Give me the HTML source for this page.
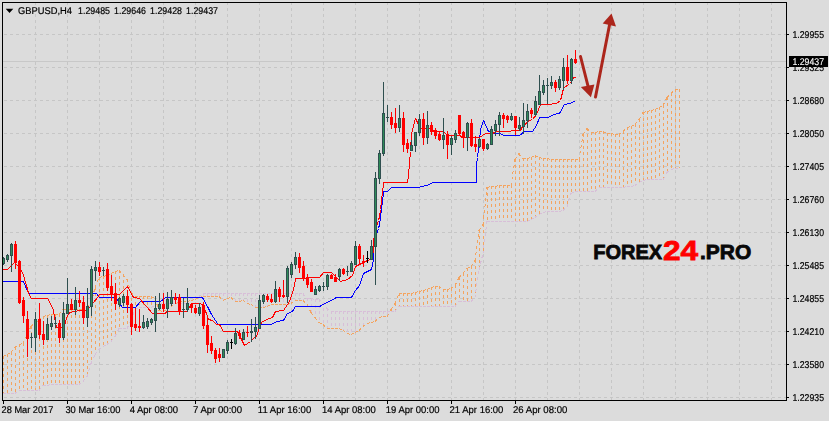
<!DOCTYPE html><html><head><meta charset="utf-8"><title>GBPUSD H4</title>
<style>html,body{margin:0;padding:0;background:#dcdcdc;overflow:hidden}svg{display:block}text{font-family:"Liberation Sans",sans-serif;}.t{filter:grayscale(1);text-rendering:geometricPrecision}.t text{stroke:#000;stroke-width:.2px}.t text.w{stroke:#fff;stroke-width:.1px}</style></head><body>
<svg width="829" height="421" viewBox="0 0 829 421">
<rect x="0" y="0" width="829" height="421" fill="#dcdcdc"/>
<g shape-rendering="crispEdges" stroke="#c6c6c6" stroke-width="1" stroke-dasharray="3 3" fill="none">
<line x1="35.5" y1="2" x2="35.5" y2="400"/>
<line x1="67.5" y1="2" x2="67.5" y2="400"/>
<line x1="99.5" y1="2" x2="99.5" y2="400"/>
<line x1="131.5" y1="2" x2="131.5" y2="400"/>
<line x1="163.5" y1="2" x2="163.5" y2="400"/>
<line x1="195.5" y1="2" x2="195.5" y2="400"/>
<line x1="227.5" y1="2" x2="227.5" y2="400"/>
<line x1="259.5" y1="2" x2="259.5" y2="400"/>
<line x1="291.5" y1="2" x2="291.5" y2="400"/>
<line x1="323.5" y1="2" x2="323.5" y2="400"/>
<line x1="355.5" y1="2" x2="355.5" y2="400"/>
<line x1="387.5" y1="2" x2="387.5" y2="400"/>
<line x1="419.5" y1="2" x2="419.5" y2="400"/>
<line x1="451.5" y1="2" x2="451.5" y2="400"/>
<line x1="483.5" y1="2" x2="483.5" y2="400"/>
<line x1="515.5" y1="2" x2="515.5" y2="400"/>
<line x1="547.5" y1="2" x2="547.5" y2="400"/>
<line x1="579.5" y1="2" x2="579.5" y2="400"/>
<line x1="611.5" y1="2" x2="611.5" y2="400"/>
<line x1="643.5" y1="2" x2="643.5" y2="400"/>
<line x1="675.5" y1="2" x2="675.5" y2="400"/>
<line x1="707.5" y1="2" x2="707.5" y2="400"/>
<line x1="739.5" y1="2" x2="739.5" y2="400"/>
<line x1="771.5" y1="2" x2="771.5" y2="400"/>
<line x1="4" y1="34.5" x2="786" y2="34.5"/>
<line x1="4" y1="67.5" x2="786" y2="67.5"/>
<line x1="4" y1="100.5" x2="786" y2="100.5"/>
<line x1="4" y1="133.5" x2="786" y2="133.5"/>
<line x1="4" y1="166.5" x2="786" y2="166.5"/>
<line x1="4" y1="199.5" x2="786" y2="199.5"/>
<line x1="4" y1="232.5" x2="786" y2="232.5"/>
<line x1="4" y1="265.5" x2="786" y2="265.5"/>
<line x1="4" y1="298.5" x2="786" y2="298.5"/>
<line x1="4" y1="331.5" x2="786" y2="331.5"/>
<line x1="4" y1="364.5" x2="786" y2="364.5"/>
<line x1="4" y1="397.5" x2="786" y2="397.5"/>
</g>
<line x1="3" y1="61.5" x2="786" y2="61.5" stroke="#c8c8c8" stroke-width="1" shape-rendering="crispEdges"/>
<g shape-rendering="crispEdges" fill="none" stroke-width="1" stroke-dasharray="3 3">
<path stroke="#f4a460" d="M3.5 356V393M7.5 354V393M11.5 352V393M15.5 347V393M19.5 344V390M23.5 343V390M27.5 334V390M31.5 326V390M35.5 322V390M39.5 320V390M43.5 316V385M47.5 315V385M51.5 314V384M55.5 314V384M59.5 314V384M63.5 309V384M67.5 309V384M71.5 309V384M75.5 309V384M79.5 309V384M83.5 309V381M87.5 306V376M91.5 303V363M95.5 287V354M99.5 277V349M103.5 276V346M107.5 275V344M111.5 273V341M115.5 271V336M119.5 270V328M123.5 274V328M127.5 279V328M131.5 292V320M135.5 296V309M139.5 296V307M143.5 296V307M147.5 296V307M151.5 296V307M155.5 298V305M179.5 302V303M183.5 301V303M187.5 301V303M391.5 309V311M395.5 303V311M399.5 293V306M403.5 293V306M407.5 293V306M411.5 293V306M415.5 292V306M419.5 291V306M423.5 290V306M427.5 289V306M431.5 287V306M435.5 286V306M439.5 286V306M443.5 289V306M447.5 289V306M451.5 288V306M455.5 285V306M459.5 277V301M463.5 273V301M467.5 268V301M471.5 266V301M475.5 260V297M479.5 230V269M483.5 224V253M487.5 187V221M491.5 186V221M495.5 186V221M499.5 185V221M503.5 185V221M507.5 185V221M511.5 185V221M515.5 159V221M519.5 153V221M523.5 158V221M527.5 158V221M531.5 157V219M535.5 155V217M539.5 157V214M543.5 158V212M547.5 158V211M551.5 159V211M555.5 159V211M559.5 159V211M563.5 159V210M567.5 159V206M571.5 159V193M575.5 159V191M579.5 159V191M583.5 134V191M587.5 128V191M591.5 132V191M595.5 132V191M599.5 131V187M603.5 131V187M607.5 133V187M611.5 133V187M615.5 134V187M619.5 134V187M623.5 131V187M627.5 127V186M631.5 126V186M635.5 124V185M639.5 119V182M643.5 112V180M647.5 111V179M651.5 110V179M655.5 109V179M659.5 107V179M663.5 105V179M667.5 97V172M671.5 93V169M675.5 89V168M679.5 89V168"/>
<path stroke="#d8bfd8" d="M159.5 303V310M163.5 303V311M167.5 303V309M171.5 303V306M195.5 298V299M199.5 296V297M203.5 293V296M207.5 293V296M211.5 293V296M215.5 293V296M219.5 293V296M223.5 293V300M227.5 293V298M231.5 293V297M235.5 293V301M239.5 293V301M243.5 293V300M247.5 293V303M251.5 293V304M255.5 293V307M259.5 293V307M263.5 293V307M267.5 293V306M271.5 293V304M275.5 293V304M279.5 293V304M283.5 293V304M287.5 293V304M291.5 293V303M295.5 293V300M299.5 293V300M303.5 293V300M307.5 298V304M311.5 298V312M315.5 299V317M319.5 299V322M323.5 302V324M327.5 308V328M331.5 311V328M335.5 311V328M339.5 311V328M343.5 311V330M347.5 311V333M351.5 311V334M355.5 311V332M359.5 311V330M363.5 311V326M367.5 311V323M371.5 311V322M375.5 311V321M379.5 311V317M383.5 311V316M387.5 311V316"/>
</g>
<g shape-rendering="crispEdges" fill="none" stroke-width="1" stroke-dasharray="3 3">
<path stroke="#d8bfd8" d="M3 393.5L7 393.5M7 393.5L11 393.5M11 393.5L15 393.5M15 393.5L19 390.5M19 390.5L23 390.5M23 390.5L27 390.5M27 390.5L31 390.5M31 390.5L35 390.5M35 390.5L39 390.5M39 390.5L43 385.5M43 385.5L47 385.5M47 385.5L51 384.5M51 384.5L55 384.5M55 384.5L59 384.5M59 384.5L63 384.5M63 384.5L67 384.5M67 384.5L71 384.5M71 384.5L75 384.5M75 384.5L79 384.5M79 384.5L83 381.5M83 381.5L87 376.5M87 376.5L91 363.5M91 363.5L95 354.5M95 354.5L99 349.5M99 349.5L103 346.5M103 346.5L107 344.5M107 344.5L111 341.5M111 341.5L115 336.5M115 336.5L119 328.5M119 328.5L123 328.5M123 328.5L127 328.5M127 328.5L131 320.5M131 320.5L135 309.5M135 309.5L139 307.5M139 307.5L143 307.5M143 307.5L147 307.5M147 307.5L151 307.5M151 307.5L155 305.5M155 305.5L159 303.5M159 303.5L163 303.5M163 303.5L167 303.5M167 303.5L171 303.5M171 303.5L175 303.5M175 303.5L179 303.5M179 303.5L183 303.5M183 303.5L187 303.5M187 303.5L191 300.5M191 300.5L195 298.5M195 298.5L199 296.5M199 296.5L203 293.5M203 293.5L207 293.5M207 293.5L211 293.5M211 293.5L215 293.5M215 293.5L219 293.5M219 293.5L223 293.5M223 293.5L227 293.5M227 293.5L231 293.5M231 293.5L235 293.5M235 293.5L239 293.5M239 293.5L243 293.5M243 293.5L247 293.5M247 293.5L251 293.5M251 293.5L255 293.5M255 293.5L259 293.5M259 293.5L263 293.5M263 293.5L267 293.5M267 293.5L271 293.5M271 293.5L275 293.5M275 293.5L279 293.5M279 293.5L283 293.5M283 293.5L287 293.5M287 293.5L291 293.5M291 293.5L295 293.5M295 293.5L299 293.5M299 293.5L303 293.5M303 293.5L307 298.5M307 298.5L311 298.5M311 298.5L315 299.5M315 299.5L319 299.5M319 299.5L323 302.5M323 302.5L327 308.5M327 308.5L331 311.5M331 311.5L335 311.5M335 311.5L339 311.5M339 311.5L343 311.5M343 311.5L347 311.5M347 311.5L351 311.5M351 311.5L355 311.5M355 311.5L359 311.5M359 311.5L363 311.5M363 311.5L367 311.5M367 311.5L371 311.5M371 311.5L375 311.5M375 311.5L379 311.5M379 311.5L383 311.5M383 311.5L387 311.5M387 311.5L391 311.5M391 311.5L395 311.5M395 311.5L399 306.5M399 306.5L403 306.5M403 306.5L407 306.5M407 306.5L411 306.5M411 306.5L415 306.5M415 306.5L419 306.5M419 306.5L423 306.5M423 306.5L427 306.5M427 306.5L431 306.5M431 306.5L435 306.5M435 306.5L439 306.5M439 306.5L443 306.5M443 306.5L447 306.5M447 306.5L451 306.5M451 306.5L455 306.5M455 306.5L459 301.5M459 301.5L463 301.5M463 301.5L467 301.5M467 301.5L471 301.5M471 301.5L475 297.5M475 297.5L479 269.5M479 269.5L483 253.5M483 253.5L487 221.5M487 221.5L491 221.5M491 221.5L495 221.5M495 221.5L499 221.5M499 221.5L503 221.5M503 221.5L507 221.5M507 221.5L511 221.5M511 221.5L515 221.5M515 221.5L519 221.5M519 221.5L523 221.5M523 221.5L527 221.5M527 221.5L531 219.5M531 219.5L535 217.5M535 217.5L539 214.5M539 214.5L543 212.5M543 212.5L547 211.5M547 211.5L551 211.5M551 211.5L555 211.5M555 211.5L559 211.5M559 211.5L563 210.5M563 210.5L567 206.5M567 206.5L571 193.5M571 193.5L575 191.5M575 191.5L579 191.5M579 191.5L583 191.5M583 191.5L587 191.5M587 191.5L591 191.5M591 191.5L595 191.5M595 191.5L599 187.5M599 187.5L603 187.5M603 187.5L607 187.5M607 187.5L611 187.5M611 187.5L615 187.5M615 187.5L619 187.5M619 187.5L623 187.5M623 187.5L627 186.5M627 186.5L631 186.5M631 186.5L635 185.5M635 185.5L639 182.5M639 182.5L643 180.5M643 180.5L647 179.5M647 179.5L651 179.5M651 179.5L655 179.5M655 179.5L659 179.5M659 179.5L663 179.5M663 179.5L667 172.5M667 172.5L671 169.5M671 169.5L675 168.5M675 168.5L679 168.5"/>
<path stroke="#f4a460" d="M3 356.5L7 354.5M7 354.5L11 352.5M11 352.5L15 347.5M15 347.5L19 344.5M19 344.5L23 343.5M23 343.5L27 334.5M27 334.5L31 326.5M31 326.5L35 322.5M35 322.5L39 320.5M39 320.5L43 316.5M43 316.5L47 315.5M47 315.5L51 314.5M51 314.5L55 314.5M55 314.5L59 314.5M59 314.5L63 309.5M63 309.5L67 309.5M67 309.5L71 309.5M71 309.5L75 309.5M75 309.5L79 309.5M79 309.5L83 309.5M83 309.5L87 306.5M87 306.5L91 303.5M91 303.5L95 287.5M95 287.5L99 277.5M99 277.5L103 276.5M103 276.5L107 275.5M107 275.5L111 273.5M111 273.5L115 271.5M115 271.5L119 270.5M119 270.5L123 274.5M123 274.5L127 279.5M127 279.5L131 292.5M131 292.5L135 296.5M135 296.5L139 296.5M139 296.5L143 296.5M143 296.5L147 296.5M147 296.5L151 296.5M151 296.5L155 298.5M155 298.5L159 310.5M159 310.5L163 311.5M163 311.5L167 309.5M167 309.5L171 306.5M171 306.5L175 303.5M175 303.5L179 302.5M179 302.5L183 301.5M183 301.5L187 301.5M187 301.5L191 300.5M191 300.5L195 299.5M195 299.5L199 297.5M199 297.5L203 296.5M203 296.5L207 296.5M207 296.5L211 296.5M211 296.5L215 296.5M215 296.5L219 296.5M219 296.5L223 300.5M223 300.5L227 298.5M227 298.5L231 297.5M231 297.5L235 301.5M235 301.5L239 301.5M239 301.5L243 300.5M243 300.5L247 303.5M247 303.5L251 304.5M251 304.5L255 307.5M255 307.5L259 307.5M259 307.5L263 307.5M263 307.5L267 306.5M267 306.5L271 304.5M271 304.5L275 304.5M275 304.5L279 304.5M279 304.5L283 304.5M283 304.5L287 304.5M287 304.5L291 303.5M291 303.5L295 300.5M295 300.5L299 300.5M299 300.5L303 300.5M303 300.5L307 304.5M307 304.5L311 312.5M311 312.5L315 317.5M315 317.5L319 322.5M319 322.5L323 324.5M323 324.5L327 328.5M327 328.5L331 328.5M331 328.5L335 328.5M335 328.5L339 328.5M339 328.5L343 330.5M343 330.5L347 333.5M347 333.5L351 334.5M351 334.5L355 332.5M355 332.5L359 330.5M359 330.5L363 326.5M363 326.5L367 323.5M367 323.5L371 322.5M371 322.5L375 321.5M375 321.5L379 317.5M379 317.5L383 316.5M383 316.5L387 316.5M387 316.5L391 309.5M391 309.5L395 303.5M395 303.5L399 293.5M399 293.5L403 293.5M403 293.5L407 293.5M407 293.5L411 293.5M411 293.5L415 292.5M415 292.5L419 291.5M419 291.5L423 290.5M423 290.5L427 289.5M427 289.5L431 287.5M431 287.5L435 286.5M435 286.5L439 286.5M439 286.5L443 289.5M443 289.5L447 289.5M447 289.5L451 288.5M451 288.5L455 285.5M455 285.5L459 277.5M459 277.5L463 273.5M463 273.5L467 268.5M467 268.5L471 266.5M471 266.5L475 260.5M475 260.5L479 230.5M479 230.5L483 224.5M483 224.5L487 187.5M487 187.5L491 186.5M491 186.5L495 186.5M495 186.5L499 185.5M499 185.5L503 185.5M503 185.5L507 185.5M507 185.5L511 185.5M511 185.5L515 159.5M515 159.5L519 153.5M519 153.5L523 158.5M523 158.5L527 158.5M527 158.5L531 157.5M531 157.5L535 155.5M535 155.5L539 157.5M539 157.5L543 158.5M543 158.5L547 158.5M547 158.5L551 159.5M551 159.5L555 159.5M555 159.5L559 159.5M559 159.5L563 159.5M563 159.5L567 159.5M567 159.5L571 159.5M571 159.5L575 159.5M575 159.5L579 159.5M579 159.5L583 134.5M583 134.5L587 128.5M587 128.5L591 132.5M591 132.5L595 132.5M595 132.5L599 131.5M599 131.5L603 131.5M603 131.5L607 133.5M607 133.5L611 133.5M611 133.5L615 134.5M615 134.5L619 134.5M619 134.5L623 131.5M623 131.5L627 127.5M627 127.5L631 126.5M631 126.5L635 124.5M635 124.5L639 119.5M639 119.5L643 112.5M643 112.5L647 111.5M647 111.5L651 110.5M651 110.5L655 109.5M655 109.5L659 107.5M659 107.5L663 105.5M663 105.5L667 97.5M667 97.5L671 93.5M671 93.5L675 89.5M675 89.5L679 89.5"/>
</g>
<g shape-rendering="crispEdges" fill="none" stroke-width="1" stroke-linejoin="round">
<polyline stroke="#0000ff" points="2.5,281.5 3.5,281.5 23.5,281.5 28.5,293.5 96.5,293.5 99.5,297.5 115.5,297.5 122.5,307.5 135.5,307.5 140.5,301.5 160.5,301.5 165.5,297.5 202.5,297.5 207.5,306.5 211.5,314.5 217.5,323.5 218.5,324.5 271.5,324.5 276.5,321.5 283.5,320.5 287.5,313.5 292.5,311.5 295.5,306.5 319.5,306.5 336.5,297.5 351.5,297.5 355.5,290.5 359.5,285.5 363.5,273.5 371.5,269.5 372.5,264.5 373.5,259.5 373.5,248.5 374.5,244.5 376.5,234.5 377.5,231.5 378.5,228.5 379.5,224.5 380.5,217.5 381.5,209.5 382.5,200.5 383.5,193.5 383.5,191.5 387.5,191.5 391.5,187.5 417.5,187.5 422.5,186.5 429.5,184.5 432.5,182.5 476.5,182.5 476.5,164.5 477.5,157.5 478.5,148.5 479.5,140.5 480.5,129.5 483.5,120.5 488.5,131.5 492.5,131.5 493.5,133.5 500.5,133.5 503.5,135.5 519.5,135.5 524.5,131.5 532.5,131.5 536.5,125.5 539.5,117.5 548.5,117.5 553.5,114.5 559.5,113.5 564.5,104.5 570.5,103.5 575.5,100.5"/>
<polyline stroke="#ff0000" points="2.5,269.5 3.5,269.5 7.5,269.5 11.5,265.5 14.5,262.5 20.5,268.5 23.5,275.5 26.5,285.5 28.5,293.5 31.5,298.5 47.5,298.5 50.5,303.5 53.5,310.5 55.5,322.5 56.5,327.5 63.5,327.5 65.5,322.5 66.5,317.5 68.5,314.5 69.5,312.5 71.5,312.5 72.5,311.5 76.5,311.5 77.5,310.5 86.5,310.5 89.5,307.5 93.5,302.5 97.5,297.5 99.5,294.5 119.5,294.5 127.5,286.5 133.5,297.5 139.5,298.5 152.5,313.5 165.5,313.5 166.5,311.5 186.5,311.5 191.5,303.5 200.5,303.5 203.5,305.5 208.5,319.5 212.5,320.5 216.5,324.5 219.5,324.5 223.5,331.5 237.5,331.5 244.5,345.5 250.5,341.5 253.5,338.5 256.5,336.5 258.5,330.5 261.5,322.5 266.5,319.5 272.5,317.5 275.5,311.5 283.5,310.5 289.5,301.5 292.5,292.5 294.5,285.5 295.5,278.5 319.5,277.5 323.5,272.5 331.5,272.5 340.5,281.5 347.5,279.5 352.5,275.5 355.5,266.5 359.5,264.5 363.5,262.5 367.5,260.5 372.5,258.5 373.5,247.5 373.5,239.5 374.5,236.5 376.5,226.5 377.5,223.5 378.5,220.5 379.5,216.5 380.5,209.5 381.5,200.5 382.5,191.5 383.5,184.5 383.5,182.5 407.5,182.5 408.5,175.5 409.5,163.5 410.5,151.5 411.5,133.5 415.5,118.5 418.5,124.5 419.5,128.5 432.5,128.5 433.5,131.5 443.5,131.5 447.5,135.5 460.5,135.5 461.5,137.5 479.5,137.5 485.5,133.5 492.5,133.5 496.5,131.5 510.5,131.5 511.5,130.5 520.5,130.5 522.5,126.5 529.5,120.5 532.5,119.5 536.5,114.5 540.5,104.5 548.5,104.5 556.5,103.5 560.5,100.5 563.5,88.5 569.5,83.5 571.5,81.5 573.5,77.5 575.5,77.5"/>
</g>
<g shape-rendering="crispEdges">
<rect x="3" y="257" width="1" height="8" fill="#2f4f4f"/>
<rect x="2" y="258" width="3" height="6" fill="#2f4f4f"/>
<rect x="3" y="259" width="1" height="4" fill="#2e8b57"/>
<rect x="7" y="254" width="1" height="8" fill="#2f4f4f"/>
<rect x="6" y="255" width="3" height="5" fill="#2f4f4f"/>
<rect x="7" y="256" width="1" height="3" fill="#2e8b57"/>
<rect x="11" y="243" width="1" height="29" fill="#2f4f4f"/>
<rect x="10" y="244" width="3" height="12" fill="#2f4f4f"/>
<rect x="11" y="245" width="1" height="10" fill="#2e8b57"/>
<rect x="15" y="241" width="1" height="28" fill="#ff0000"/>
<rect x="14" y="244" width="3" height="19" fill="#ff0000"/>
<rect x="19" y="260" width="1" height="44" fill="#ff0000"/>
<rect x="18" y="261" width="3" height="42" fill="#ff0000"/>
<rect x="23" y="297" width="1" height="26" fill="#ff0000"/>
<rect x="22" y="300" width="3" height="16" fill="#ff0000"/>
<rect x="27" y="311" width="1" height="46" fill="#ff0000"/>
<rect x="26" y="319" width="3" height="20" fill="#ff0000"/>
<rect x="31" y="333" width="1" height="15" fill="#2f4f4f"/>
<rect x="30" y="337" width="3" height="1" fill="#2f4f4f"/>
<rect x="35" y="312" width="1" height="40" fill="#2f4f4f"/>
<rect x="34" y="319" width="3" height="19" fill="#2f4f4f"/>
<rect x="35" y="320" width="1" height="17" fill="#2e8b57"/>
<rect x="39" y="303" width="1" height="36" fill="#ff0000"/>
<rect x="38" y="319" width="3" height="16" fill="#ff0000"/>
<rect x="43" y="321" width="1" height="24" fill="#ff0000"/>
<rect x="42" y="334" width="3" height="6" fill="#ff0000"/>
<rect x="47" y="318" width="1" height="22" fill="#2f4f4f"/>
<rect x="46" y="324" width="3" height="16" fill="#2f4f4f"/>
<rect x="47" y="325" width="1" height="14" fill="#2e8b57"/>
<rect x="51" y="316" width="1" height="14" fill="#2f4f4f"/>
<rect x="50" y="323" width="3" height="4" fill="#2f4f4f"/>
<rect x="51" y="324" width="1" height="2" fill="#2e8b57"/>
<rect x="55" y="317" width="1" height="11" fill="#2f4f4f"/>
<rect x="54" y="323" width="3" height="1" fill="#2f4f4f"/>
<rect x="59" y="320" width="1" height="23" fill="#ff0000"/>
<rect x="58" y="323" width="3" height="15" fill="#ff0000"/>
<rect x="63" y="302" width="1" height="38" fill="#2f4f4f"/>
<rect x="62" y="313" width="3" height="25" fill="#2f4f4f"/>
<rect x="63" y="314" width="1" height="23" fill="#2e8b57"/>
<rect x="67" y="278" width="1" height="36" fill="#2f4f4f"/>
<rect x="66" y="304" width="3" height="10" fill="#2f4f4f"/>
<rect x="67" y="305" width="1" height="8" fill="#2e8b57"/>
<rect x="71" y="299" width="1" height="11" fill="#ff0000"/>
<rect x="70" y="304" width="3" height="6" fill="#ff0000"/>
<rect x="75" y="287" width="1" height="28" fill="#2f4f4f"/>
<rect x="74" y="300" width="3" height="10" fill="#2f4f4f"/>
<rect x="75" y="301" width="1" height="8" fill="#2e8b57"/>
<rect x="79" y="291" width="1" height="16" fill="#ff0000"/>
<rect x="78" y="300" width="3" height="3" fill="#ff0000"/>
<rect x="83" y="296" width="1" height="28" fill="#ff0000"/>
<rect x="82" y="302" width="3" height="16" fill="#ff0000"/>
<rect x="87" y="288" width="1" height="39" fill="#2f4f4f"/>
<rect x="86" y="306" width="3" height="12" fill="#2f4f4f"/>
<rect x="87" y="307" width="1" height="10" fill="#2e8b57"/>
<rect x="91" y="266" width="1" height="50" fill="#2f4f4f"/>
<rect x="90" y="269" width="3" height="38" fill="#2f4f4f"/>
<rect x="91" y="270" width="1" height="36" fill="#2e8b57"/>
<rect x="95" y="261" width="1" height="20" fill="#2f4f4f"/>
<rect x="94" y="267" width="3" height="4" fill="#2f4f4f"/>
<rect x="95" y="268" width="1" height="2" fill="#2e8b57"/>
<rect x="99" y="262" width="1" height="14" fill="#ff0000"/>
<rect x="98" y="267" width="3" height="5" fill="#ff0000"/>
<rect x="103" y="267" width="1" height="9" fill="#2f4f4f"/>
<rect x="102" y="270" width="3" height="1" fill="#2f4f4f"/>
<rect x="107" y="263" width="1" height="28" fill="#ff0000"/>
<rect x="106" y="269" width="3" height="19" fill="#ff0000"/>
<rect x="111" y="275" width="1" height="26" fill="#ff0000"/>
<rect x="110" y="286" width="3" height="9" fill="#ff0000"/>
<rect x="115" y="283" width="1" height="27" fill="#ff0000"/>
<rect x="114" y="293" width="3" height="11" fill="#ff0000"/>
<rect x="119" y="297" width="1" height="10" fill="#2f4f4f"/>
<rect x="118" y="298" width="3" height="7" fill="#2f4f4f"/>
<rect x="119" y="299" width="1" height="5" fill="#2e8b57"/>
<rect x="123" y="294" width="1" height="12" fill="#2f4f4f"/>
<rect x="122" y="296" width="3" height="7" fill="#2f4f4f"/>
<rect x="123" y="297" width="1" height="5" fill="#2e8b57"/>
<rect x="127" y="290" width="1" height="23" fill="#ff0000"/>
<rect x="126" y="296" width="3" height="9" fill="#ff0000"/>
<rect x="131" y="303" width="1" height="32" fill="#ff0000"/>
<rect x="130" y="304" width="3" height="23" fill="#ff0000"/>
<rect x="135" y="308" width="1" height="23" fill="#ff0000"/>
<rect x="134" y="324" width="3" height="4" fill="#ff0000"/>
<rect x="139" y="309" width="1" height="23" fill="#ff0000"/>
<rect x="138" y="326" width="3" height="2" fill="#ff0000"/>
<rect x="143" y="315" width="1" height="14" fill="#2f4f4f"/>
<rect x="142" y="322" width="3" height="6" fill="#2f4f4f"/>
<rect x="143" y="323" width="1" height="4" fill="#2e8b57"/>
<rect x="147" y="318" width="1" height="11" fill="#2f4f4f"/>
<rect x="146" y="321" width="3" height="6" fill="#2f4f4f"/>
<rect x="147" y="322" width="1" height="4" fill="#2e8b57"/>
<rect x="151" y="318" width="1" height="7" fill="#2f4f4f"/>
<rect x="150" y="319" width="3" height="4" fill="#2f4f4f"/>
<rect x="151" y="320" width="1" height="2" fill="#2e8b57"/>
<rect x="155" y="296" width="1" height="36" fill="#2f4f4f"/>
<rect x="154" y="308" width="3" height="13" fill="#2f4f4f"/>
<rect x="155" y="309" width="1" height="11" fill="#2e8b57"/>
<rect x="159" y="293" width="1" height="17" fill="#2f4f4f"/>
<rect x="158" y="304" width="3" height="5" fill="#2f4f4f"/>
<rect x="159" y="305" width="1" height="3" fill="#2e8b57"/>
<rect x="163" y="293" width="1" height="19" fill="#ff0000"/>
<rect x="162" y="304" width="3" height="5" fill="#ff0000"/>
<rect x="167" y="292" width="1" height="26" fill="#2f4f4f"/>
<rect x="166" y="299" width="3" height="10" fill="#2f4f4f"/>
<rect x="167" y="300" width="1" height="8" fill="#2e8b57"/>
<rect x="171" y="290" width="1" height="16" fill="#2f4f4f"/>
<rect x="170" y="297" width="3" height="7" fill="#2f4f4f"/>
<rect x="171" y="298" width="1" height="5" fill="#2e8b57"/>
<rect x="175" y="293" width="1" height="11" fill="#ff0000"/>
<rect x="174" y="297" width="3" height="3" fill="#ff0000"/>
<rect x="179" y="294" width="1" height="21" fill="#ff0000"/>
<rect x="178" y="297" width="3" height="14" fill="#ff0000"/>
<rect x="183" y="298" width="1" height="20" fill="#2f4f4f"/>
<rect x="182" y="309" width="3" height="1" fill="#2f4f4f"/>
<rect x="187" y="288" width="1" height="24" fill="#2f4f4f"/>
<rect x="186" y="303" width="3" height="7" fill="#2f4f4f"/>
<rect x="187" y="304" width="1" height="5" fill="#2e8b57"/>
<rect x="191" y="303" width="1" height="10" fill="#ff0000"/>
<rect x="190" y="304" width="3" height="4" fill="#ff0000"/>
<rect x="195" y="305" width="1" height="9" fill="#ff0000"/>
<rect x="194" y="308" width="3" height="5" fill="#ff0000"/>
<rect x="199" y="303" width="1" height="13" fill="#2f4f4f"/>
<rect x="198" y="307" width="3" height="7" fill="#2f4f4f"/>
<rect x="199" y="308" width="1" height="5" fill="#2e8b57"/>
<rect x="203" y="302" width="1" height="27" fill="#ff0000"/>
<rect x="202" y="305" width="3" height="21" fill="#ff0000"/>
<rect x="207" y="315" width="1" height="38" fill="#ff0000"/>
<rect x="206" y="325" width="3" height="20" fill="#ff0000"/>
<rect x="211" y="336" width="1" height="18" fill="#ff0000"/>
<rect x="210" y="343" width="3" height="8" fill="#ff0000"/>
<rect x="215" y="348" width="1" height="15" fill="#ff0000"/>
<rect x="214" y="350" width="3" height="9" fill="#ff0000"/>
<rect x="219" y="348" width="1" height="14" fill="#ff0000"/>
<rect x="218" y="354" width="3" height="4" fill="#ff0000"/>
<rect x="223" y="349" width="1" height="9" fill="#2f4f4f"/>
<rect x="222" y="349" width="3" height="9" fill="#2f4f4f"/>
<rect x="223" y="350" width="1" height="7" fill="#2e8b57"/>
<rect x="227" y="340" width="1" height="14" fill="#2f4f4f"/>
<rect x="226" y="342" width="3" height="9" fill="#2f4f4f"/>
<rect x="227" y="343" width="1" height="7" fill="#2e8b57"/>
<rect x="231" y="339" width="1" height="10" fill="#000"/>
<rect x="230" y="342" width="3" height="1" fill="#000"/>
<rect x="235" y="328" width="1" height="17" fill="#2f4f4f"/>
<rect x="234" y="333" width="3" height="11" fill="#2f4f4f"/>
<rect x="235" y="334" width="1" height="9" fill="#2e8b57"/>
<rect x="239" y="330" width="1" height="9" fill="#ff0000"/>
<rect x="238" y="333" width="3" height="3" fill="#ff0000"/>
<rect x="243" y="329" width="1" height="11" fill="#2f4f4f"/>
<rect x="242" y="332" width="3" height="8" fill="#2f4f4f"/>
<rect x="243" y="333" width="1" height="6" fill="#2e8b57"/>
<rect x="247" y="326" width="1" height="11" fill="#ff0000"/>
<rect x="246" y="332" width="3" height="1" fill="#ff0000"/>
<rect x="251" y="319" width="1" height="23" fill="#2f4f4f"/>
<rect x="250" y="331" width="3" height="2" fill="#2f4f4f"/>
<rect x="255" y="317" width="1" height="22" fill="#2f4f4f"/>
<rect x="254" y="327" width="3" height="5" fill="#2f4f4f"/>
<rect x="255" y="328" width="1" height="3" fill="#2e8b57"/>
<rect x="259" y="295" width="1" height="34" fill="#2f4f4f"/>
<rect x="258" y="300" width="3" height="29" fill="#2f4f4f"/>
<rect x="259" y="301" width="1" height="27" fill="#2e8b57"/>
<rect x="263" y="294" width="1" height="10" fill="#2f4f4f"/>
<rect x="262" y="295" width="3" height="7" fill="#2f4f4f"/>
<rect x="263" y="296" width="1" height="5" fill="#2e8b57"/>
<rect x="267" y="294" width="1" height="8" fill="#ff0000"/>
<rect x="266" y="296" width="3" height="4" fill="#ff0000"/>
<rect x="271" y="294" width="1" height="9" fill="#ff0000"/>
<rect x="270" y="299" width="3" height="3" fill="#ff0000"/>
<rect x="275" y="281" width="1" height="22" fill="#2f4f4f"/>
<rect x="274" y="289" width="3" height="13" fill="#2f4f4f"/>
<rect x="275" y="290" width="1" height="11" fill="#2e8b57"/>
<rect x="279" y="287" width="1" height="15" fill="#ff0000"/>
<rect x="278" y="289" width="3" height="8" fill="#ff0000"/>
<rect x="283" y="280" width="1" height="18" fill="#ff0000"/>
<rect x="282" y="295" width="3" height="2" fill="#ff0000"/>
<rect x="287" y="266" width="1" height="37" fill="#2f4f4f"/>
<rect x="286" y="268" width="3" height="29" fill="#2f4f4f"/>
<rect x="287" y="269" width="1" height="27" fill="#2e8b57"/>
<rect x="291" y="262" width="1" height="16" fill="#2f4f4f"/>
<rect x="290" y="264" width="3" height="11" fill="#2f4f4f"/>
<rect x="291" y="265" width="1" height="9" fill="#2e8b57"/>
<rect x="295" y="252" width="1" height="17" fill="#2f4f4f"/>
<rect x="294" y="257" width="3" height="8" fill="#2f4f4f"/>
<rect x="295" y="258" width="1" height="6" fill="#2e8b57"/>
<rect x="299" y="253" width="1" height="20" fill="#ff0000"/>
<rect x="298" y="257" width="3" height="11" fill="#ff0000"/>
<rect x="303" y="261" width="1" height="20" fill="#ff0000"/>
<rect x="302" y="266" width="3" height="13" fill="#ff0000"/>
<rect x="307" y="274" width="1" height="14" fill="#ff0000"/>
<rect x="306" y="277" width="3" height="8" fill="#ff0000"/>
<rect x="311" y="279" width="1" height="13" fill="#ff0000"/>
<rect x="310" y="282" width="3" height="10" fill="#ff0000"/>
<rect x="315" y="286" width="1" height="9" fill="#2f4f4f"/>
<rect x="314" y="289" width="3" height="6" fill="#2f4f4f"/>
<rect x="315" y="290" width="1" height="4" fill="#2e8b57"/>
<rect x="319" y="285" width="1" height="7" fill="#2f4f4f"/>
<rect x="318" y="286" width="3" height="5" fill="#2f4f4f"/>
<rect x="319" y="287" width="1" height="3" fill="#2e8b57"/>
<rect x="323" y="282" width="1" height="9" fill="#2f4f4f"/>
<rect x="322" y="286" width="3" height="1" fill="#2f4f4f"/>
<rect x="327" y="274" width="1" height="16" fill="#2f4f4f"/>
<rect x="326" y="275" width="3" height="12" fill="#2f4f4f"/>
<rect x="327" y="276" width="1" height="10" fill="#2e8b57"/>
<rect x="331" y="274" width="1" height="5" fill="#ff0000"/>
<rect x="330" y="275" width="3" height="4" fill="#ff0000"/>
<rect x="335" y="274" width="1" height="8" fill="#ff0000"/>
<rect x="334" y="277" width="3" height="5" fill="#ff0000"/>
<rect x="339" y="268" width="1" height="13" fill="#2f4f4f"/>
<rect x="338" y="269" width="3" height="8" fill="#2f4f4f"/>
<rect x="339" y="270" width="1" height="6" fill="#2e8b57"/>
<rect x="343" y="268" width="1" height="7" fill="#ff0000"/>
<rect x="342" y="269" width="3" height="5" fill="#ff0000"/>
<rect x="347" y="266" width="1" height="10" fill="#2f4f4f"/>
<rect x="346" y="271" width="3" height="1" fill="#2f4f4f"/>
<rect x="351" y="261" width="1" height="11" fill="#2f4f4f"/>
<rect x="350" y="263" width="3" height="9" fill="#2f4f4f"/>
<rect x="351" y="264" width="1" height="7" fill="#2e8b57"/>
<rect x="355" y="241" width="1" height="24" fill="#2f4f4f"/>
<rect x="354" y="246" width="3" height="19" fill="#2f4f4f"/>
<rect x="355" y="247" width="1" height="17" fill="#2e8b57"/>
<rect x="359" y="244" width="1" height="20" fill="#ff0000"/>
<rect x="358" y="246" width="3" height="13" fill="#ff0000"/>
<rect x="363" y="255" width="1" height="12" fill="#ff0000"/>
<rect x="362" y="261" width="3" height="1" fill="#ff0000"/>
<rect x="367" y="251" width="1" height="12" fill="#000"/>
<rect x="366" y="258" width="3" height="1" fill="#000"/>
<rect x="371" y="240" width="1" height="20" fill="#2f4f4f"/>
<rect x="370" y="246" width="3" height="14" fill="#2f4f4f"/>
<rect x="371" y="247" width="1" height="12" fill="#2e8b57"/>
<rect x="375" y="172" width="1" height="113" fill="#2f4f4f"/>
<rect x="374" y="178" width="3" height="69" fill="#2f4f4f"/>
<rect x="375" y="179" width="1" height="67" fill="#2e8b57"/>
<rect x="379" y="150" width="1" height="34" fill="#2f4f4f"/>
<rect x="378" y="153" width="3" height="26" fill="#2f4f4f"/>
<rect x="379" y="154" width="1" height="24" fill="#2e8b57"/>
<rect x="383" y="82" width="1" height="74" fill="#2f4f4f"/>
<rect x="382" y="113" width="3" height="41" fill="#2f4f4f"/>
<rect x="383" y="114" width="1" height="39" fill="#2e8b57"/>
<rect x="387" y="105" width="1" height="17" fill="#2f4f4f"/>
<rect x="386" y="117" width="3" height="1" fill="#2f4f4f"/>
<rect x="391" y="112" width="1" height="17" fill="#ff0000"/>
<rect x="390" y="117" width="3" height="8" fill="#ff0000"/>
<rect x="395" y="108" width="1" height="25" fill="#ff0000"/>
<rect x="394" y="123" width="3" height="5" fill="#ff0000"/>
<rect x="399" y="105" width="1" height="27" fill="#2f4f4f"/>
<rect x="398" y="118" width="3" height="10" fill="#2f4f4f"/>
<rect x="399" y="119" width="1" height="8" fill="#2e8b57"/>
<rect x="403" y="112" width="1" height="40" fill="#ff0000"/>
<rect x="402" y="118" width="3" height="27" fill="#ff0000"/>
<rect x="407" y="139" width="1" height="14" fill="#ff0000"/>
<rect x="406" y="143" width="3" height="6" fill="#ff0000"/>
<rect x="411" y="140" width="1" height="11" fill="#2f4f4f"/>
<rect x="410" y="145" width="3" height="6" fill="#2f4f4f"/>
<rect x="411" y="146" width="1" height="4" fill="#2e8b57"/>
<rect x="415" y="132" width="1" height="20" fill="#2f4f4f"/>
<rect x="414" y="132" width="3" height="14" fill="#2f4f4f"/>
<rect x="415" y="133" width="1" height="12" fill="#2e8b57"/>
<rect x="419" y="114" width="1" height="22" fill="#2f4f4f"/>
<rect x="418" y="119" width="3" height="14" fill="#2f4f4f"/>
<rect x="419" y="120" width="1" height="12" fill="#2e8b57"/>
<rect x="423" y="113" width="1" height="32" fill="#ff0000"/>
<rect x="422" y="119" width="3" height="19" fill="#ff0000"/>
<rect x="427" y="111" width="1" height="33" fill="#2f4f4f"/>
<rect x="426" y="125" width="3" height="13" fill="#2f4f4f"/>
<rect x="427" y="126" width="1" height="11" fill="#2e8b57"/>
<rect x="431" y="122" width="1" height="13" fill="#ff0000"/>
<rect x="430" y="125" width="3" height="7" fill="#ff0000"/>
<rect x="435" y="128" width="1" height="11" fill="#ff0000"/>
<rect x="434" y="130" width="3" height="6" fill="#ff0000"/>
<rect x="439" y="132" width="1" height="9" fill="#ff0000"/>
<rect x="438" y="134" width="3" height="6" fill="#ff0000"/>
<rect x="443" y="118" width="1" height="31" fill="#2f4f4f"/>
<rect x="442" y="135" width="3" height="5" fill="#2f4f4f"/>
<rect x="443" y="136" width="1" height="3" fill="#2e8b57"/>
<rect x="447" y="131" width="1" height="28" fill="#ff0000"/>
<rect x="446" y="134" width="3" height="11" fill="#ff0000"/>
<rect x="451" y="136" width="1" height="19" fill="#2f4f4f"/>
<rect x="450" y="138" width="3" height="7" fill="#2f4f4f"/>
<rect x="451" y="139" width="1" height="5" fill="#2e8b57"/>
<rect x="455" y="130" width="1" height="13" fill="#2f4f4f"/>
<rect x="454" y="133" width="3" height="7" fill="#2f4f4f"/>
<rect x="455" y="134" width="1" height="5" fill="#2e8b57"/>
<rect x="459" y="115" width="1" height="20" fill="#ff0000"/>
<rect x="458" y="115" width="3" height="19" fill="#ff0000"/>
<rect x="463" y="131" width="1" height="17" fill="#ff0000"/>
<rect x="462" y="132" width="3" height="5" fill="#ff0000"/>
<rect x="467" y="122" width="1" height="29" fill="#2f4f4f"/>
<rect x="466" y="123" width="3" height="15" fill="#2f4f4f"/>
<rect x="467" y="124" width="1" height="13" fill="#2e8b57"/>
<rect x="471" y="119" width="1" height="28" fill="#ff0000"/>
<rect x="470" y="123" width="3" height="23" fill="#ff0000"/>
<rect x="475" y="136" width="1" height="16" fill="#ff0000"/>
<rect x="474" y="144" width="3" height="3" fill="#ff0000"/>
<rect x="479" y="138" width="1" height="10" fill="#2f4f4f"/>
<rect x="478" y="139" width="3" height="8" fill="#2f4f4f"/>
<rect x="479" y="140" width="1" height="6" fill="#2e8b57"/>
<rect x="483" y="139" width="1" height="12" fill="#ff0000"/>
<rect x="482" y="139" width="3" height="10" fill="#ff0000"/>
<rect x="487" y="143" width="1" height="7" fill="#2f4f4f"/>
<rect x="486" y="144" width="3" height="5" fill="#2f4f4f"/>
<rect x="487" y="145" width="1" height="3" fill="#2e8b57"/>
<rect x="491" y="126" width="1" height="19" fill="#2f4f4f"/>
<rect x="490" y="129" width="3" height="16" fill="#2f4f4f"/>
<rect x="491" y="130" width="1" height="14" fill="#2e8b57"/>
<rect x="495" y="120" width="1" height="16" fill="#2f4f4f"/>
<rect x="494" y="124" width="3" height="7" fill="#2f4f4f"/>
<rect x="495" y="125" width="1" height="5" fill="#2e8b57"/>
<rect x="499" y="112" width="1" height="24" fill="#2f4f4f"/>
<rect x="498" y="115" width="3" height="10" fill="#2f4f4f"/>
<rect x="499" y="116" width="1" height="8" fill="#2e8b57"/>
<rect x="503" y="113" width="1" height="15" fill="#ff0000"/>
<rect x="502" y="115" width="3" height="4" fill="#ff0000"/>
<rect x="507" y="115" width="1" height="8" fill="#ff0000"/>
<rect x="506" y="116" width="3" height="4" fill="#ff0000"/>
<rect x="511" y="113" width="1" height="8" fill="#2f4f4f"/>
<rect x="510" y="116" width="3" height="4" fill="#2f4f4f"/>
<rect x="511" y="117" width="1" height="2" fill="#2e8b57"/>
<rect x="515" y="116" width="1" height="19" fill="#ff0000"/>
<rect x="514" y="116" width="3" height="12" fill="#ff0000"/>
<rect x="519" y="117" width="1" height="14" fill="#2f4f4f"/>
<rect x="518" y="125" width="3" height="4" fill="#2f4f4f"/>
<rect x="519" y="126" width="1" height="2" fill="#2e8b57"/>
<rect x="523" y="103" width="1" height="31" fill="#2f4f4f"/>
<rect x="522" y="120" width="3" height="7" fill="#2f4f4f"/>
<rect x="523" y="121" width="1" height="5" fill="#2e8b57"/>
<rect x="527" y="104" width="1" height="24" fill="#2f4f4f"/>
<rect x="526" y="111" width="3" height="10" fill="#2f4f4f"/>
<rect x="527" y="112" width="1" height="8" fill="#2e8b57"/>
<rect x="531" y="108" width="1" height="10" fill="#ff0000"/>
<rect x="530" y="110" width="3" height="4" fill="#ff0000"/>
<rect x="535" y="96" width="1" height="20" fill="#2f4f4f"/>
<rect x="534" y="101" width="3" height="14" fill="#2f4f4f"/>
<rect x="535" y="102" width="1" height="12" fill="#2e8b57"/>
<rect x="539" y="75" width="1" height="30" fill="#2f4f4f"/>
<rect x="538" y="91" width="3" height="14" fill="#2f4f4f"/>
<rect x="539" y="92" width="1" height="12" fill="#2e8b57"/>
<rect x="543" y="80" width="1" height="15" fill="#2f4f4f"/>
<rect x="542" y="85" width="3" height="8" fill="#2f4f4f"/>
<rect x="543" y="86" width="1" height="6" fill="#2e8b57"/>
<rect x="547" y="78" width="1" height="26" fill="#2f4f4f"/>
<rect x="546" y="85" width="3" height="1" fill="#2f4f4f"/>
<rect x="551" y="76" width="1" height="13" fill="#2f4f4f"/>
<rect x="550" y="82" width="3" height="4" fill="#2f4f4f"/>
<rect x="551" y="83" width="1" height="2" fill="#2e8b57"/>
<rect x="555" y="80" width="1" height="12" fill="#ff0000"/>
<rect x="554" y="82" width="3" height="6" fill="#ff0000"/>
<rect x="559" y="76" width="1" height="14" fill="#2f4f4f"/>
<rect x="558" y="79" width="3" height="9" fill="#2f4f4f"/>
<rect x="559" y="80" width="1" height="7" fill="#2e8b57"/>
<rect x="563" y="58" width="1" height="32" fill="#2f4f4f"/>
<rect x="562" y="67" width="3" height="14" fill="#2f4f4f"/>
<rect x="563" y="68" width="1" height="12" fill="#2e8b57"/>
<rect x="567" y="55" width="1" height="29" fill="#ff0000"/>
<rect x="566" y="67" width="3" height="14" fill="#ff0000"/>
<rect x="571" y="58" width="1" height="26" fill="#2f4f4f"/>
<rect x="570" y="59" width="3" height="22" fill="#2f4f4f"/>
<rect x="571" y="60" width="1" height="20" fill="#2e8b57"/>
<rect x="575" y="50" width="1" height="14" fill="#ff0000"/>
<rect x="574" y="59" width="3" height="4" fill="#ff0000"/>
</g>
<g fill="#ac261c" stroke="#ac261c">
<line x1="580.5" y1="56.5" x2="588.5" y2="88" stroke-width="3" stroke-linecap="round"/>
<path d="M580.8 87L594.4 84.4L590.9 97.2Z" stroke="none"/>
<line x1="595.5" y1="97" x2="609.5" y2="25" stroke-width="3" stroke-linecap="round"/>
<path d="M602.7 23.5L616 26.4L611.5 13.6Z" stroke="none"/>
</g>
<text x="593.3" y="259.2" font-size="20.3" font-weight="bold" fill="#080808" stroke="#080808" stroke-width="0.8" textLength="68.9" lengthAdjust="spacingAndGlyphs">FOREX</text>
<text x="663" y="259.6" font-size="28.5" font-weight="bold" fill="#ff0000" stroke="#ff0000" stroke-width="0.8" textLength="35.2" lengthAdjust="spacingAndGlyphs">24</text>
<text x="700" y="259.2" font-size="20.3" font-weight="bold" fill="#080808" stroke="#080808" stroke-width="0.8" textLength="51.3" lengthAdjust="spacingAndGlyphs">.PRO</text>
<g shape-rendering="crispEdges" fill="#000">
<rect x="2" y="2" width="785" height="1"/>
<rect x="2" y="2" width="1" height="399"/>
<rect x="786" y="2" width="1" height="399"/>
<rect x="2" y="400" width="785" height="1"/>
<rect x="787" y="34" width="2" height="1"/>
<rect x="787" y="67" width="2" height="1"/>
<rect x="787" y="100" width="2" height="1"/>
<rect x="787" y="133" width="2" height="1"/>
<rect x="787" y="166" width="2" height="1"/>
<rect x="787" y="199" width="2" height="1"/>
<rect x="787" y="232" width="2" height="1"/>
<rect x="787" y="265" width="2" height="1"/>
<rect x="787" y="298" width="2" height="1"/>
<rect x="787" y="331" width="2" height="1"/>
<rect x="787" y="364" width="2" height="1"/>
<rect x="787" y="397" width="2" height="1"/>
<rect x="3" y="401" width="1" height="3"/>
<rect x="67" y="401" width="1" height="3"/>
<rect x="131" y="401" width="1" height="3"/>
<rect x="195" y="401" width="1" height="3"/>
<rect x="259" y="401" width="1" height="3"/>
<rect x="323" y="401" width="1" height="3"/>
<rect x="387" y="401" width="1" height="3"/>
<rect x="451" y="401" width="1" height="3"/>
<rect x="515" y="401" width="1" height="3"/>
</g>
<g class="t"><g font-size="9.9" fill="#000">
<text x="792.5" y="38" textLength="31.5" lengthAdjust="spacingAndGlyphs">1.29955</text>
<text x="792.5" y="71" textLength="31.5" lengthAdjust="spacingAndGlyphs">1.29325</text>
<text x="792.5" y="104" textLength="31.5" lengthAdjust="spacingAndGlyphs">1.28680</text>
<text x="792.5" y="137" textLength="31.5" lengthAdjust="spacingAndGlyphs">1.28050</text>
<text x="792.5" y="170" textLength="31.5" lengthAdjust="spacingAndGlyphs">1.27405</text>
<text x="792.5" y="203" textLength="31.5" lengthAdjust="spacingAndGlyphs">1.26760</text>
<text x="792.5" y="236" textLength="31.5" lengthAdjust="spacingAndGlyphs">1.26130</text>
<text x="792.5" y="269" textLength="31.5" lengthAdjust="spacingAndGlyphs">1.25485</text>
<text x="792.5" y="302" textLength="31.5" lengthAdjust="spacingAndGlyphs">1.24855</text>
<text x="792.5" y="335" textLength="31.5" lengthAdjust="spacingAndGlyphs">1.24210</text>
<text x="792.5" y="368" textLength="31.5" lengthAdjust="spacingAndGlyphs">1.23580</text>
<text x="792.5" y="401" textLength="31.5" lengthAdjust="spacingAndGlyphs">1.22935</text>
</g>
<rect x="789" y="56" width="39" height="11" fill="#000" shape-rendering="crispEdges"/>
<text class="w" x="792.5" y="65" font-size="9.7" fill="#fff" textLength="31.5" lengthAdjust="spacingAndGlyphs">1.29437</text>
<g font-size="9.8" fill="#000">
<text x="1.55" y="413" textLength="51.85" lengthAdjust="spacingAndGlyphs">28 Mar 2017</text>
<text x="65.45" y="413" textLength="54.95" lengthAdjust="spacingAndGlyphs">30 Mar 16:00</text>
<text x="129.65" y="413" textLength="48.45" lengthAdjust="spacingAndGlyphs">4 Apr 08:00</text>
<text x="192.95" y="413" textLength="49.05" lengthAdjust="spacingAndGlyphs">7 Apr 00:00</text>
<text x="257.8" y="413" textLength="53.4" lengthAdjust="spacingAndGlyphs">11 Apr 16:00</text>
<text x="322" y="413" textLength="53.7" lengthAdjust="spacingAndGlyphs">14 Apr 08:00</text>
<text x="385.8" y="413" textLength="53.7" lengthAdjust="spacingAndGlyphs">19 Apr 00:00</text>
<text x="449.55" y="413" textLength="53.85" lengthAdjust="spacingAndGlyphs">21 Apr 16:00</text>
<text x="512.95" y="413" textLength="54.45" lengthAdjust="spacingAndGlyphs">26 Apr 08:00</text>
</g>
<path d="M5.7 8.8H13.3L9.5 13Z" fill="#000"/>
<g font-size="9.8" fill="#000">
<text x="18" y="14" textLength="54" lengthAdjust="spacingAndGlyphs">GBPUSD,H4</text>
<text x="78" y="14" textLength="32" lengthAdjust="spacingAndGlyphs">1.29485</text>
<text x="114" y="14" textLength="32" lengthAdjust="spacingAndGlyphs">1.29646</text>
<text x="150" y="14" textLength="32" lengthAdjust="spacingAndGlyphs">1.29428</text>
<text x="186" y="14" textLength="32" lengthAdjust="spacingAndGlyphs">1.29437</text>
</g>
</g>
</svg></body></html>
